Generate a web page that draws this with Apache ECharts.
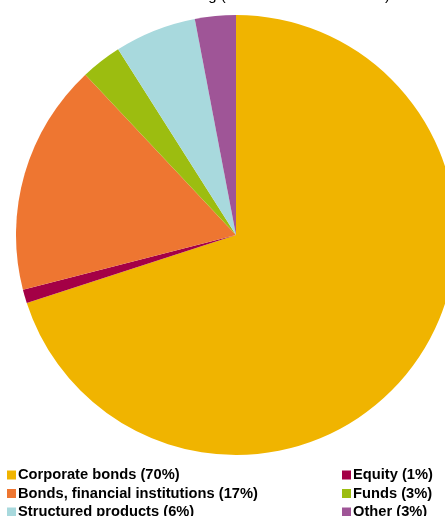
<!DOCTYPE html>
<html>
<head>
<meta charset="utf-8">
<script src="https://cdn.jsdelivr.net/npm/echarts@6/dist/echarts.min.js"></script>
<style>
  html, body { margin: 0; padding: 0; background: #fff; }
  #chart { width: 445px; height: 516px; }
</style>
</head>
<body>
<div id="chart"></div>
<script>
// Portfolio breakdown by asset class, in percent
const categories = [
  'Corporate bonds',
  'Equity',
  'Bonds, financial institutions',
  'Funds',
  'Structured products',
  'Other'
];
const shares = [70, 1, 17, 3, 6, 3];
const colors = ['#F0B400', '#A40046', '#EE7631', '#9CBD10', '#A8D9DD', '#9F5597'];

const leftColumn = ['Corporate bonds', 'Bonds, financial institutions', 'Structured products'];
const rightColumn = ['Equity', 'Funds', 'Other'];

const valueOf = name => shares[categories.indexOf(name)];
const legendText = name => name + ' (' + valueOf(name) + '%)';

const legendBase = {
  orient: 'vertical',
  icon: 'rect',
  itemWidth: 9,
  itemHeight: 9,
  itemGap: 2.5,
  height: 80,
  selectedMode: false,
  formatter: legendText,
  textStyle: {
    fontFamily: 'Liberation Sans, Arial, sans-serif',
    fontWeight: 'bold',
    fontSize: 14.7,
    lineHeight: 16,
    color: '#000',
    padding: [0, 0, 0, -3]
  },
  padding: 0
};

const chart = echarts.init(document.getElementById('chart'), null, { renderer: 'canvas' });
chart.setOption({
  animation: false,
  color: colors,
  title: {
    text: 'Breakdown of fund holding (in % of total fund assets)',
    right: 55,
    top: -12,
    padding: 0,
    textStyle: {
      fontFamily: 'Liberation Sans, Arial, sans-serif',
      fontWeight: 'normal',
      fontSize: 15,
      color: '#000'
    }
  },
  legend: [
    Object.assign({}, legendBase, { data: leftColumn, left: 7, top: 467 }),
    Object.assign({}, legendBase, { data: rightColumn, left: 342, top: 467 })
  ],
  series: [{
    type: 'pie',
    center: [236, 235],
    radius: [0, 220],
    startAngle: 90,
    clockwise: true,
    label: { show: false },
    labelLine: { show: false },
    emphasis: { disabled: true },
    itemStyle: { borderWidth: 0 },
    data: categories.map((name, i) => ({ name: name, value: shares[i] }))
  }]
});
</script>
</body>
</html>
